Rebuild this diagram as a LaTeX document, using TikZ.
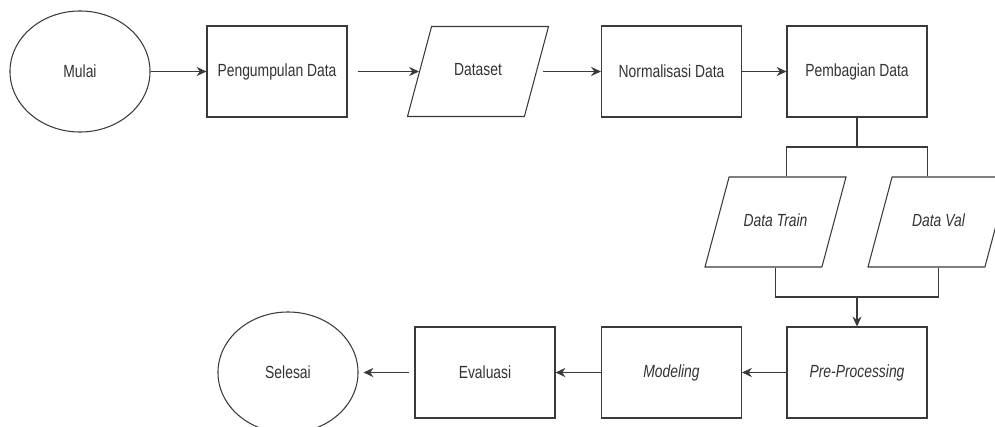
\documentclass[tikz,border=0pt]{standalone}
\usepackage{fontspec}
\setmainfont{Liberation Sans}[FakeStretch=0.79]
\usepackage{tikz}
\usetikzlibrary{arrows.meta,calc,positioning,shapes.geometric}
\definecolor{InkDark}{HTML}{333333}
\definecolor{InkLine}{HTML}{3A3A3A}
\tikzset{
  terminal/.style={ellipse, draw=InkLine, line width=0.75pt, fill=white,
             minimum width=3.5cm, minimum height=3.025cm, inner sep=0pt,
             text=InkDark, font=\fontsize{12.5}{14}\selectfont},
  proses/.style={rectangle, draw=InkLine, line width=0.75pt, fill=white,
             minimum width=3.5cm, minimum height=2.275cm, inner sep=0pt,
             text=InkDark, font=\fontsize{12.5}{14}\selectfont},
  iodata/.style={trapezium, trapezium left angle=75, trapezium right angle=105,
             trapezium stretches body=true, draw=InkLine, line width=0.75pt, fill=white,
             text height=0.3cm, text depth=0.08cm, inner xsep=0pt, inner ysep=0.935cm,
             minimum width=3.525cm,
             text=InkDark, font=\fontsize{12.5}{14}\selectfont},
  garis/.style={line width=0.75pt, draw=InkLine},
  panah/.style={garis, -{Stealth[length=7pt,width=6.5pt]}},
}

\begin{document}
\begin{tikzpicture}[x=0.025cm, y=-0.025cm]
\useasboundingbox (0,0) rectangle (995,427);
\clip (0,0) rectangle (995,427);
% baris atas
\node[terminal] (mulai) at (80,71.5) {Mulai};
\node[proses] (kumpul) at (277,71.5) {Pengumpulan Data};
\node[iodata] (dataset) at (478,71.5) {Dataset};
\node[proses] (normal) at (671.5,71.5) {Normalisasi Data};
\node[proses] (bagi) at (857,71.5) {Pembagian Data};
% pembagian data
\node[iodata] (train) at (775.5,222) {\itshape Data Train};
\node[iodata] (val) at (938.5,222) {\itshape Data Val};
\coordinate (cabang) at (857,147);
\coordinate (gabung) at (857,297);
% baris bawah
\node[proses] (pre) at (857,372.5) {\itshape Pre-Processing};
\node[proses] (model) at (671.5,372.5) {\itshape Modeling};
\node[proses] (eval) at (485,372.5) {Evaluasi};
\node[terminal] (selesai) at (288,372.5) {Selesai};

\draw[panah] (mulai) -- (kumpul);
\draw[panah, shorten <=10*0.025cm] (kumpul) -- (dataset);
\draw[panah, shorten <=6*0.025cm] (dataset) -- (normal);
\draw[panah] (normal) -- (bagi);
\draw[garis] (bagi.south) -- (cabang);
\draw[garis] (train.north -| bagi.west) |- (cabang) -| (val.north -| bagi.east);
\draw[garis] (train.south) |- (gabung) -| (val.south);
\draw[panah] (gabung) -- (pre.north);
\draw[panah] (pre) -- (model);
\draw[panah] (model) -- (eval);
\draw[panah, shorten <=5*0.025cm, shorten >=5*0.025cm] (eval) -- (selesai);
\end{tikzpicture}
\end{document}
